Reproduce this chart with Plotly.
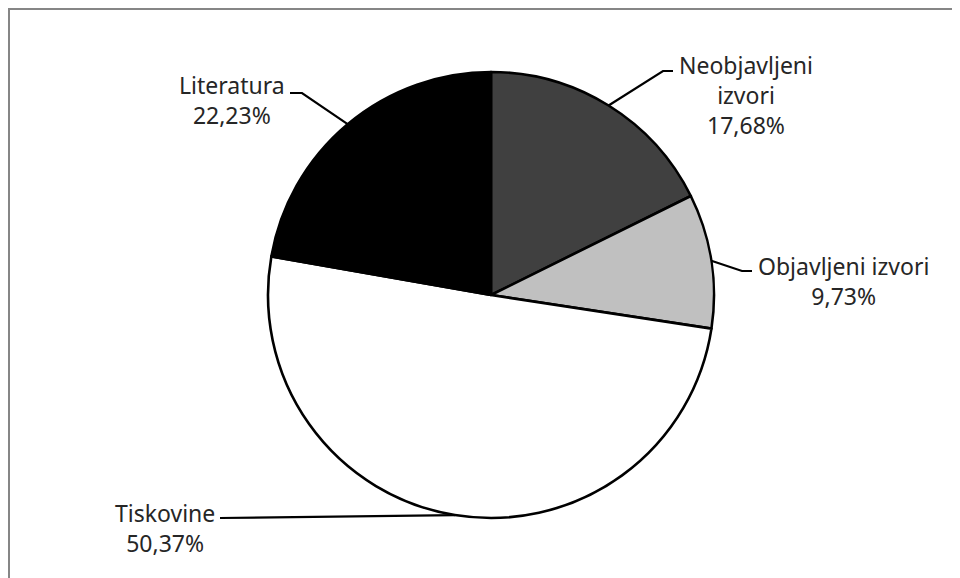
import math
import plotly.graph_objects as go

labels = ["Neobjavljeni izvori", "Objavljeni izvori", "Tiskovine", "Literatura"]
values = [17.68, 9.73, 50.37, 22.23]
label_texts = ["Neobjavljeni<br>izvori<br>17,68%", "Objavljeni izvori<br>9,73%",
               "Tiskovine<br>50,37%", "Literatura<br>22,23%"]
colors = ["#404040", "#c0c0c0", "#ffffff", "#000000"]

W, H = 960, 578
OFF = 8  # page body margin offset
CX, CY, R = 491 - OFF, 295 - OFF, 223

# label block centres and leader-line elbow/end points (screen pixels)
label_pos = [(746, 95), (843, 281), (165, 528), (232, 100)]
elbows = [((663, 71), (673, 71)), ((742, 271), (752, 271)),
          ((300, 518), (220, 518)), ((302, 93), (290, 93))]

def px(x, y):
    return x / W, 1 - y / H

fig = go.Figure()
fig.add_trace(go.Pie(
    labels=labels, values=values, sort=False, direction="clockwise", rotation=0,
    marker=dict(colors=colors, line=dict(color="#000000", width=2.6)),
    textinfo="none", hoverinfo="label+percent", showlegend=False,
    domain=dict(x=[(CX - R) / W, (CX + R) / W], y=[1 - (CY + R) / H, 1 - (CY - R) / H]),
))

total = sum(values)
cum = 0
shapes = []
annotations = []
for i, v in enumerate(values):
    mid = (cum + v / 2) / total * 2 * math.pi
    cum += v
    ex = CX + R * math.sin(mid)
    ey = CY - R * math.cos(mid)
    (bx, by), (tx, ty) = elbows[i]
    bx, by, tx, ty = bx - OFF, by - OFF, tx - OFF, ty - OFF
    if i == 2:
        pts = [(ex, ey), (tx, ty)]
    else:
        pts = [(ex, ey), (bx, by), (tx, ty)]
    path = ""
    for j, (x, y) in enumerate(pts):
        a, b = px(x, y)
        path += ("M" if j == 0 else " L") + f" {a:.5f},{b:.5f}"
    shapes.append(dict(type="path", xref="paper", yref="paper", path=path,
                       line=dict(color="#000000", width=2.2)))
    lx, ly = px(label_pos[i][0] - OFF, label_pos[i][1] - OFF)
    annotations.append(dict(x=lx, y=ly, xref="paper", yref="paper", text=label_texts[i],
                            showarrow=False, xanchor="center", yanchor="middle", align="center",
                            font=dict(family="Noto Sans", size=23, color="#262626")))

# outer chart border at the figure edge
shapes.append(dict(type="rect", xref="paper", yref="paper",
                   x0=1 / W, x1=1.05, y0=-0.05, y1=1 - 1 / H,
                   line=dict(color="#868686", width=2), fillcolor="rgba(0,0,0,0)", layer="above"))

fig.update_layout(
    width=W, height=H, margin=dict(l=0, r=0, t=0, b=0),
    paper_bgcolor="#ffffff", plot_bgcolor="#ffffff",
    shapes=shapes, annotations=annotations,
)
fig.write_html("out.html")
